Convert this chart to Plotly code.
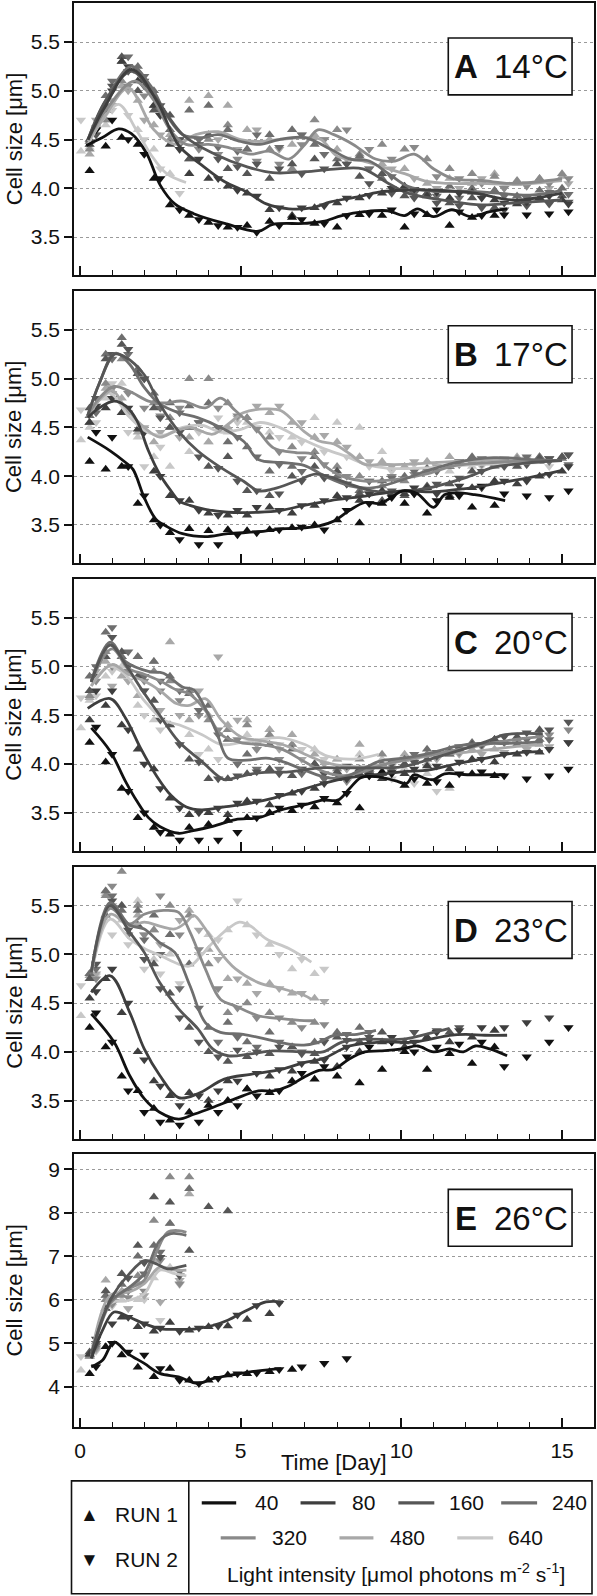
import plotly.graph_objects as go

# ---------------- data ----------------
INTENSITIES = [40, 80, 160, 240, 320, 480, 640]
COLORS = {40: "#111111", 80: "#3e3e3e", 160: "#565656", 240: "#6e6e6e",
          320: "#8a8a8a", 480: "#a8a8a8", 640: "#c8c8c8"}
PANEL_LETTERS = ["A", "B", "C", "D", "E"]
PANEL_TEMPS = ["14°C", "17°C", "20°C", "23°C", "26°C"]
X_TICKS = [0, 5, 10, 15]
Y_TICKS_AD = [3.5, 4.0, 4.5, 5.0, 5.5]
Y_TICKS_E = [4, 5, 6, 7, 8, 9]

# sampling days of run 1 and run 2
T1 = [0.3, 0.8, 1.3, 1.8, 2.3, 2.8, 3.4, 4.0, 4.6, 5.2, 5.9, 6.6, 7.3, 8.0, 8.7, 9.4,
      10.1, 10.8, 11.5, 12.2, 12.9, 13.6, 14.3, 15.0]
T2 = [0.5, 1.0, 1.5, 2.0, 2.5, 3.1, 3.7, 4.3, 4.9, 5.5, 6.2, 6.9, 7.6, 8.3, 9.0, 9.7,
      10.4, 11.1, 11.8, 12.5, 13.2, 13.9, 14.6, 15.2]
T0 = 0.03
INIT_R1 = [4.38, 4.37, 4.37, 4.37, 4.38]
INIT_R2 = [4.70, 4.68, 4.68, 4.68, 4.70]

# ---- Panel A 14°C ----
A40_fit = [(0.2, 4.44), (0.7, 4.52), (1.2, 4.61), (1.6, 4.56), (2.07, 4.36), (2.5, 4.03), (2.95, 3.84), (3.54, 3.74), (4.5, 3.64), (5.55, 3.56), (6.0, 3.63), (6.97, 3.64), (7.56, 3.66), (8.15, 3.72), (8.86, 3.76), (9.57, 3.77), (10.1, 3.72), (10.5, 3.79), (11.0, 3.71), (11.57, 3.78), (12.16, 3.71), (12.75, 3.76), (13.29, 3.79)]
A40_r1 = [4.18, 4.43, 4.52, 4.45, 4.1, 3.83, 3.72, 3.65, 3.6, 3.62, 3.66, 3.7, 3.64, 3.6, 3.73, 3.72, 3.6, 3.73, 3.62, 3.7, 3.72]
A40_r2 = [4.6, 4.7, 4.5, 4.35, 4.1, 3.78, 3.68, 3.62, 3.6, 3.55, 3.62, 3.68, 3.64, 3.72, 3.74, 3.78, 3.74, 3.78, 3.76, 3.72, 3.73, 3.73, 3.74, 3.76]
A80_fit = [(0.25, 4.5), (0.8, 4.85), (1.6, 5.22), (2.4, 4.89), (3.07, 4.44), (3.78, 4.24), (4.49, 4.07), (5.2, 3.96), (5.8, 3.84), (6.5, 3.79), (7.2, 3.8), (7.8, 3.86), (8.6, 3.91), (9.3, 3.96), (10.04, 3.98), (11.1, 3.98), (12.3, 3.95), (13.5, 3.88), (15.0, 3.95)]
A80_r1 = [4.45, 4.8, 5.3, 5.1, 4.85, 4.45, 4.15, 4.1, 4.02, 3.95, 3.78, 3.72, 3.8, 3.85, 3.9, 3.95, 4.02, 3.92, 3.9, 3.96, 3.88, 3.84, 3.9, 3.88]
A80_r2 = [4.6, 5.0, 5.25, 5.05, 4.75, 4.4, 4.3, 4.1, 3.98, 3.92, 3.8, 3.8, 3.82, 3.9, 3.93, 4.0, 3.99, 3.96, 3.95, 3.9, 3.85, 3.86, 3.92, 3.84]
A160_fit = [(0.25, 4.5), (0.8, 4.9), (1.6, 5.2), (2.3, 4.95), (3.2, 4.55), (4.2, 4.35), (5.2, 4.22), (6.0, 4.16), (7.0, 4.17), (8.0, 4.2), (8.8, 4.2), (9.6, 4.05), (10.2, 3.95), (11.5, 3.87), (12.5, 3.83), (13.5, 3.85), (15.0, 3.88)]
A160_r1 = [4.5, 4.85, 5.35, 5.0, 4.8, 4.75, 4.3, 4.55, 4.2, 4.15, 4.1, 4.25, 4.3, 4.25, 4.12, 4.15, 3.92, 3.95, 3.85, 3.9, 3.8, 3.86, 3.9, 3.92]
A160_r2 = [4.55, 5.05, 5.2, 5.1, 4.85, 4.5, 4.45, 4.3, 4.22, 4.25, 4.2, 4.15, 4.2, 4.25, 4.05, 3.95, 3.9, 3.85, 3.82, 3.8, 3.78, 3.82, 3.84, 3.86]
A240_fit = [(0.25, 4.5), (0.8, 4.9), (1.6, 5.25), (2.2, 5.05), (2.7, 4.75), (3.2, 4.55), (3.8, 4.52), (4.3, 4.55), (5.0, 4.48), (5.6, 4.45), (6.2, 4.5), (7.0, 4.52), (7.8, 4.4), (8.4, 4.3), (9.0, 4.28), (9.6, 4.15), (10.2, 4.02), (11.0, 3.97), (12.0, 3.97), (13.0, 3.95), (14.0, 3.93), (15.0, 3.98)]
A240_r1 = [4.48, 4.95, 5.3, 5.25, 5.0, 4.6, 4.8, 4.85, 4.6, 4.4, 4.55, 4.6, 4.45, 4.3, 4.33, 4.1, 4.0, 3.95, 4.02, 4.0, 3.98, 3.92, 3.98, 4.0]
A240_r2 = [4.62, 5.1, 5.35, 5.15, 4.8, 4.45, 4.5, 4.42, 4.38, 4.55, 4.42, 4.55, 4.35, 4.25, 4.2, 4.12, 3.95, 3.92, 3.9, 3.95, 3.92, 3.9, 3.96, 3.94]
A320_fit = [(0.25, 4.5), (0.8, 4.8), (1.7, 5.1), (2.3, 4.9), (2.8, 4.6), (3.3, 4.45), (4.0, 4.45), (4.6, 4.42), (5.3, 4.35), (5.9, 4.38), (6.5, 4.3), (7.0, 4.45), (7.4, 4.6), (7.9, 4.55), (8.5, 4.45), (9.2, 4.3), (9.8, 4.28), (10.4, 4.35), (11.0, 4.2), (11.6, 4.1), (12.5, 4.08), (13.5, 4.05), (15.0, 4.1)]
A320_r1 = [4.4, 4.7, 5.1, 5.2, 4.85, 4.5, 4.3, 4.5, 4.65, 4.4, 4.4, 4.2, 4.7, 4.6, 4.35, 4.45, 4.4, 4.3, 4.2, 4.15, 4.12, 4.08, 4.1, 4.15]
A320_r2 = [4.55, 4.85, 5.05, 4.95, 4.75, 4.5, 4.4, 4.35, 4.3, 4.28, 4.25, 4.45, 4.5, 4.6, 4.4, 4.3, 4.42, 4.12, 4.1, 4.05, 4.0, 4.02, 4.05, 4.1]
A480_fit = [(0.25, 4.48), (0.8, 4.75), (1.5, 5.03), (2.3, 4.6), (3.0, 4.45), (3.6, 4.55), (4.3, 4.58), (5.0, 4.5), (5.6, 4.48), (6.2, 4.5), (7.0, 4.52), (7.5, 4.5), (8.0, 4.33), (8.8, 4.28), (9.4, 4.22), (10.1, 4.15), (10.8, 4.07), (11.5, 4.05), (12.5, 4.05), (13.5, 4.04), (15.0, 4.08)]
A480_r1 = [4.35, 4.7, 5.05, 4.9, 4.65, 4.55, 4.9, 4.95, 4.85, 4.6, 4.5, 4.45, 4.55, 4.4, 4.3, 4.25, 4.2, 4.05, 4.1, 4.05, 4.15, 4.05, 4.1, 4.12]
A480_r2 = [4.7, 4.9, 5.0, 4.7, 4.55, 4.4, 4.45, 4.5, 4.4, 4.6, 4.4, 4.55, 4.5, 4.3, 4.2, 4.2, 4.1, 4.0, 4.0, 4.1, 4.0, 4.05, 4.0, 4.05]
A640_fit = [(0.25, 4.45), (0.7, 4.7), (1.2, 4.86), (1.75, 4.6), (2.2, 4.35), (2.7, 4.15), (3.3, 4.06)]
A640_r1 = [4.42, 4.65, 5.05, 4.6, 4.4, 4.15]
A640_r2 = [4.6, 4.8, 4.75, 4.5, 4.2, 3.95]

# ---- Panel B 17°C ----
B40_fit = [(0.24, 4.4), (0.94, 4.26), (1.42, 4.14), (1.65, 4.07), (2.0, 3.78), (2.36, 3.56), (2.72, 3.48), (3.19, 3.41), (3.9, 3.38), (4.6, 3.41), (5.55, 3.43), (6.26, 3.46), (6.97, 3.47), (7.44, 3.49), (7.9, 3.54), (8.39, 3.65), (8.86, 3.73), (9.33, 3.72), (9.68, 3.78), (10.04, 3.85), (10.5, 3.82), (11.0, 3.68), (11.34, 3.81), (11.7, 3.83), (12.28, 3.81), (13.23, 3.75)]
B40_r1 = [4.15, 4.07, 4.1, 3.72, 3.55, 3.42, 3.46, 3.44, 3.45, 3.44, 3.45, 3.47, 3.5, 3.55, 3.52, 3.72, 3.72, 3.62, 3.78, 3.68, 3.7]
B40_r2 = [4.45, 4.4, 4.1, 3.8, 3.5, 3.35, 3.3, 3.3, 3.4, 3.42, 3.45, 3.48, 3.45, 3.65, 3.72, 3.78, 3.82, 3.75, 3.8, 3.9, 3.82, 3.8, 3.78, 3.85]
B80_fit = [(0.24, 4.6), (0.6, 4.7), (1.06, 4.77), (1.42, 4.72), (1.77, 4.57), (2.13, 4.26), (2.48, 4.02), (2.83, 3.85), (3.07, 3.75), (3.42, 3.7), (3.9, 3.66), (4.6, 3.63), (5.55, 3.63), (6.26, 3.65), (6.97, 3.7), (7.8, 3.75), (8.74, 3.79), (9.33, 3.82), (10.04, 3.85), (11.0, 3.84), (11.93, 3.87), (12.87, 3.92), (14.05, 3.99), (15.0, 4.06)]
B80_r1 = [4.55, 4.7, 4.65, 4.48, 4.05, 3.8, 3.75, 3.62, 3.6, 3.6, 3.68, 3.62, 3.7, 3.8, 3.75, 3.85, 3.82, 3.88, 3.8, 3.88, 3.95, 3.92, 4.0, 4.05]
B80_r2 = [4.72, 4.8, 4.7, 4.45, 4.0, 3.75, 3.65, 3.6, 3.65, 3.68, 3.65, 3.7, 3.75, 3.78, 3.82, 3.8, 3.88, 3.82, 3.9, 3.88, 3.95, 3.95, 4.02, 4.1]
B160_fit = [(0.24, 4.62), (0.6, 4.95), (1.06, 5.25), (1.42, 5.22), (2.0, 5.04), (2.48, 4.74), (3.07, 4.46), (3.66, 4.26), (4.37, 4.09), (5.08, 3.95), (5.55, 3.85), (6.02, 3.87), (6.73, 3.95), (7.32, 4.02), (7.8, 3.99), (8.39, 3.92), (9.09, 3.85), (9.92, 3.84), (10.87, 3.88), (12.05, 3.99), (12.87, 4.09), (14.05, 4.14), (15.0, 4.16)]
B160_r1 = [4.7, 5.2, 5.35, 5.05, 4.7, 4.5, 4.5, 4.1, 4.2, 3.85, 3.8, 4.0, 4.1, 4.05, 3.82, 3.75, 3.8, 3.9, 3.92, 4.05, 4.12, 4.1, 4.18, 4.2]
B160_r2 = [4.8, 5.25, 5.3, 5.0, 4.6, 4.45, 4.2, 4.08, 3.95, 3.85, 3.82, 3.95, 3.98, 3.92, 3.82, 3.85, 3.82, 3.92, 3.98, 4.05, 4.1, 4.12, 4.18, 4.22]
B240_fit = [(0.24, 4.62), (0.6, 4.95), (1.1, 5.26), (1.54, 5.15), (2.0, 4.91), (2.48, 4.74), (3.07, 4.65), (3.66, 4.6), (4.37, 4.5), (5.08, 4.36), (5.55, 4.17), (6.26, 4.14), (6.97, 4.11), (7.68, 3.99), (8.39, 3.9), (9.09, 3.88), (9.92, 3.95), (10.75, 4.05), (11.69, 4.14), (12.87, 4.19), (14.05, 4.17), (15.0, 4.16)]
B240_r1 = [4.62, 5.25, 5.42, 5.1, 4.85, 4.75, 4.72, 4.75, 4.35, 4.3, 4.05, 4.1, 4.2, 4.0, 3.85, 3.95, 4.0, 4.08, 4.1, 4.2, 4.15, 4.15, 4.2, 4.18]
B240_r2 = [4.65, 5.2, 5.25, 5.0, 4.7, 4.65, 4.55, 4.5, 4.4, 4.2, 4.12, 4.05, 4.0, 3.92, 3.95, 3.98, 4.05, 4.05, 4.15, 4.18, 4.15, 4.2, 4.15, 4.12]
B320_fit = [(0.24, 4.62), (0.6, 4.8), (1.06, 4.92), (1.54, 4.87), (2.13, 4.77), (2.6, 4.75), (3.19, 4.77), (3.9, 4.7), (4.37, 4.8), (4.84, 4.67), (5.55, 4.46), (6.02, 4.29), (6.73, 4.24), (7.2, 4.23), (7.68, 4.09), (8.15, 4.0), (8.86, 3.95), (9.92, 3.97), (10.75, 4.02), (11.69, 4.11), (12.87, 4.14), (14.05, 4.16), (15.0, 4.16)]
B320_r1 = [4.55, 4.95, 5.2, 5.05, 4.75, 4.6, 5.0, 5.0, 4.75, 4.6, 4.4, 4.3, 4.25, 4.1, 4.0, 3.9, 3.95, 4.05, 4.1, 4.15, 4.1, 4.18, 4.15, 4.2]
B320_r2 = [4.7, 4.9, 4.85, 4.7, 4.62, 4.7, 4.55, 4.7, 4.62, 4.48, 4.25, 4.18, 4.12, 4.0, 3.95, 4.0, 4.02, 4.05, 4.12, 4.12, 4.15, 4.15, 4.18, 4.22]
B480_fit = [(0.24, 4.6), (0.6, 4.78), (1.0, 4.88), (1.42, 4.7), (2.0, 4.5), (2.48, 4.4), (2.95, 4.46), (3.42, 4.5), (4.13, 4.43), (4.6, 4.53), (5.08, 4.65), (5.79, 4.69), (6.26, 4.67), (6.97, 4.46), (7.44, 4.36), (7.9, 4.33), (8.39, 4.23), (8.86, 4.12), (9.33, 4.12), (10.04, 4.12), (11.1, 4.14), (12.28, 4.16), (13.46, 4.16), (14.3, 4.16)]
B480_r1 = [4.55, 4.9, 4.8, 4.45, 4.35, 4.5, 4.4, 4.35, 4.5, 4.6, 4.65, 4.55, 4.4, 4.35, 4.2, 4.15, 4.1, 4.15, 4.2, 4.18, 4.15, 4.2, 4.2]
B480_r2 = [4.68, 4.85, 4.65, 4.5, 4.45, 4.4, 4.55, 4.5, 4.6, 4.72, 4.72, 4.55, 4.42, 4.3, 4.15, 4.1, 4.15, 4.1, 4.12, 4.15, 4.18, 4.12, 4.18]
B640_fit = [(0.24, 4.6), (0.6, 4.78), (0.95, 4.85), (1.5, 4.62), (2.1, 4.45), (2.6, 4.42), (3.2, 4.5), (3.8, 4.52), (4.4, 4.45), (5.0, 4.48), (5.6, 4.55), (6.2, 4.5), (6.9, 4.38), (7.6, 4.28), (8.3, 4.2), (8.9, 4.12), (9.6, 4.08), (10.5, 4.08), (11.5, 4.1), (12.5, 4.12), (13.5, 4.13), (14.3, 4.14)]
B640_r1 = [4.5, 4.8, 4.95, 4.4, 4.2, 4.1, 4.25, 4.35, 4.45, 4.55, 4.45, 4.4, 4.6, 4.55, 4.5, 4.25, 4.1, 4.15, 4.05, 4.1, 4.15, 4.12, 4.15]
B640_r2 = [4.55, 4.95, 4.45, 4.1, 4.3, 4.4, 4.45, 4.6, 4.55, 4.5, 4.4, 4.35, 4.25, 4.2, 4.1, 4.05, 4.12, 4.1, 4.15, 4.1, 4.15, 4.18, 4.1]

# ---- Panel C 20°C ----
C40_fit = [(0.35, 4.37), (0.94, 4.13), (1.42, 3.82), (1.77, 3.62), (2.13, 3.45), (2.48, 3.36), (3.07, 3.29), (3.42, 3.31), (4.13, 3.36), (4.84, 3.43), (5.55, 3.45), (6.26, 3.53), (6.97, 3.58), (7.56, 3.63), (8.03, 3.63), (8.39, 3.75), (8.74, 3.86), (9.21, 3.87), (9.8, 3.83), (10.16, 3.8), (10.39, 3.89), (10.75, 3.85), (11.0, 3.84), (11.34, 3.9), (12.05, 3.89), (12.87, 3.89), (13.23, 3.89)]
C40_r1 = [4.22, 4.02, 3.75, 3.45, 3.35, 3.28, 3.35, 3.38, 3.42, 3.45, 3.5, 3.52, 3.56, 3.6, 3.55, 3.92, 3.78, 3.8, 3.78, 3.9, 3.88]
C40_r2 = [4.38, 4.1, 3.72, 3.5, 3.3, 3.22, 3.22, 3.22, 3.3, 3.45, 3.55, 3.58, 3.65, 3.7, 3.88, 3.9, 3.85, 3.82, 3.9, 3.92, 3.88, 3.85, 3.88, 3.95]
C80_fit = [(0.24, 4.57), (0.94, 4.67), (1.42, 4.47), (1.89, 4.16), (2.36, 3.89), (2.83, 3.68), (3.31, 3.56), (3.78, 3.53), (4.49, 3.56), (5.31, 3.6), (6.02, 3.65), (6.73, 3.72), (7.56, 3.8), (8.39, 3.86), (9.21, 3.89), (10.04, 3.92), (10.87, 3.94), (11.69, 4.0), (12.64, 4.06), (13.46, 4.11), (14.4, 4.13)]
C80_r1 = [4.45, 4.6, 4.4, 4.15, 3.95, 3.65, 3.48, 3.5, 3.48, 3.62, 3.58, 3.7, 3.75, 3.85, 3.9, 3.85, 3.9, 3.98, 3.95, 4.05, 4.02, 4.1, 4.12]
C80_r2 = [4.75, 4.75, 4.35, 4.0, 3.75, 3.55, 3.5, 3.55, 3.6, 3.62, 3.68, 3.72, 3.8, 3.85, 3.88, 3.92, 3.95, 3.98, 4.02, 4.05, 4.1, 4.12, 4.15, 4.22]
C160_fit = [(0.35, 4.84), (0.94, 5.22), (1.42, 5.02), (1.89, 4.78), (2.48, 4.5), (3.07, 4.23), (3.78, 4.03), (4.49, 3.84), (4.84, 3.86), (5.55, 3.91), (6.5, 3.92), (7.44, 3.96), (8.15, 3.96), (9.0, 3.96), (10.0, 3.97), (11.0, 4.06), (12.0, 4.16), (12.64, 4.23), (13.23, 4.3), (14.4, 4.31)]
C160_r1 = [4.75, 5.1, 5.15, 4.9, 4.65, 4.4, 4.05, 3.85, 3.85, 3.9, 3.95, 3.88, 4.0, 3.92, 3.95, 3.9, 4.0, 4.05, 4.12, 4.2, 4.25, 4.28, 4.35]
C160_r2 = [4.9, 5.3, 5.0, 4.75, 4.45, 4.2, 4.02, 3.85, 3.88, 3.92, 3.9, 3.95, 3.9, 3.98, 3.92, 4.0, 4.02, 4.08, 4.15, 4.2, 4.28, 4.32, 4.35, 4.43]
C240_fit = [(0.35, 4.85), (0.94, 5.25), (1.42, 5.05), (2.13, 4.95), (2.6, 4.93), (3.19, 4.79), (3.54, 4.76), (3.9, 4.57), (4.25, 4.33), (4.6, 4.06), (5.2, 4.04), (5.79, 4.06), (6.26, 4.03), (6.97, 3.94), (7.68, 3.86), (8.15, 3.86), (8.74, 3.94), (9.33, 4.03), (10.04, 4.06), (10.87, 4.11), (11.69, 4.18), (12.4, 4.21), (13.23, 4.21), (14.4, 4.23)]
C240_r1 = [4.9, 5.35, 5.1, 5.1, 5.05, 4.9, 4.72, 4.6, 4.25, 4.1, 4.2, 4.15, 4.0, 3.9, 3.95, 4.0, 4.05, 4.15, 4.1, 4.22, 4.25, 4.2, 4.25]
C240_r2 = [5.0, 5.4, 5.15, 4.9, 4.85, 4.75, 4.55, 4.3, 4.0, 3.95, 3.95, 3.9, 3.85, 3.85, 3.9, 4.02, 4.1, 4.12, 4.18, 4.2, 4.22, 4.25, 4.25, 4.22]
C320_fit = [(0.35, 4.85), (1.0, 5.18), (1.5, 4.98), (2.0, 4.92), (2.5, 4.85), (3.0, 4.76), (3.4, 4.72), (3.9, 4.55), (4.4, 4.3), (5.0, 4.22), (5.6, 4.2), (6.3, 4.15), (7.0, 4.02), (7.6, 3.92), (8.2, 3.88), (8.8, 3.92), (9.5, 4.0), (10.2, 4.05), (11.0, 4.1), (11.8, 4.15), (12.6, 4.2), (13.5, 4.25), (14.4, 4.28)]
C320_r1 = [4.7, 5.15, 5.1, 5.1, 4.95, 4.85, 4.75, 4.45, 4.35, 4.4, 4.3, 4.2, 4.0, 3.95, 4.05, 4.1, 4.0, 4.1, 4.15, 4.2, 4.25, 4.25, 4.3]
C320_r2 = [4.85, 5.0, 4.95, 4.85, 4.75, 4.65, 4.5, 4.35, 4.25, 4.15, 4.05, 3.95, 3.85, 3.82, 3.9, 3.95, 4.05, 4.08, 4.12, 4.18, 4.22, 4.25, 4.3, 4.35]
C480_fit = [(0.35, 4.8), (1.0, 5.02), (1.5, 4.92), (2.0, 4.85), (2.5, 4.75), (3.0, 4.62), (3.4, 4.6), (3.9, 4.67), (4.4, 4.45), (5.0, 4.28), (5.6, 4.24), (6.3, 4.2), (7.0, 4.1), (7.6, 4.02), (8.2, 3.98), (8.8, 3.97), (9.5, 4.0), (10.3, 4.05), (11.2, 4.1), (12.0, 4.12), (12.8, 4.15), (13.6, 4.18), (14.4, 4.2)]
C480_r1 = [4.68, 5.05, 4.9, 4.7, 5.05, 5.25, 4.45, 4.5, 4.4, 4.45, 4.35, 4.3, 4.1, 4.05, 4.2, 4.0, 4.1, 4.0, 4.1, 4.15, 4.15, 4.2, 4.2]
C480_r2 = [4.95, 4.8, 4.85, 4.75, 4.55, 4.5, 4.75, 5.1, 4.45, 4.2, 4.15, 4.05, 4.0, 3.95, 3.92, 3.98, 4.02, 4.05, 4.1, 4.1, 4.12, 4.15, 4.18]
C640_fit = [(0.35, 4.8), (0.9, 5.0), (1.4, 4.92), (2.0, 4.65), (2.6, 4.45), (3.1, 4.4), (3.8, 4.3), (4.4, 4.2), (5.0, 4.22), (5.6, 4.25), (6.2, 4.27), (7.0, 4.2), (7.7, 4.08), (8.5, 4.05), (9.3, 4.1)]
C640_r1 = [4.65, 4.9, 5.0, 4.6, 4.45, 4.4, 4.3, 4.15, 4.25, 4.3, 4.35, 4.2, 4.15, 4.05, 4.1, 4.05, 3.95, 3.9, 3.75]
C640_r2 = [4.7, 4.95, 4.85, 4.5, 4.35, 4.2, 4.1, 4.05, 4.0, 4.15, 4.2, 4.15, 4.05, 3.95, 3.9, 3.85, 3.8, 3.72]

# ---- Panel D 23°C ----
D40_fit = [(0.35, 4.39), (1.06, 4.1), (1.54, 3.76), (2.0, 3.52), (2.48, 3.38), (3.07, 3.31), (3.54, 3.36), (4.13, 3.43), (4.84, 3.52), (5.55, 3.6), (6.02, 3.6), (6.5, 3.65), (6.97, 3.74), (7.44, 3.81), (7.9, 3.82), (8.39, 3.93), (8.86, 4.0), (9.33, 4.01), (10.04, 4.03), (10.5, 4.06), (11.0, 4.0), (11.5, 4.03), (11.93, 4.0), (12.3, 4.06), (12.75, 4.03), (13.29, 3.96)]
D40_r1 = [4.25, 4.05, 3.75, 3.6, 3.42, 3.3, 3.38, 3.45, 3.5, 3.62, 3.58, 3.7, 3.72, 3.75, 3.68, 3.82, 4.0, 3.82, 3.98, 3.88, 4.05]
D40_r2 = [4.4, 4.1, 3.6, 3.38, 3.28, 3.25, 3.28, 3.38, 3.45, 3.55, 3.6, 3.78, 3.85, 3.95, 4.05, 4.1, 4.0, 4.05, 4.08, 4.1, 3.85, 3.95, 4.1, 4.25]
D80_fit = [(0.35, 4.61), (0.94, 4.78), (1.54, 4.41), (2.0, 4.03), (2.48, 3.76), (3.07, 3.53), (3.66, 3.57), (4.49, 3.72), (5.31, 3.77), (6.26, 3.82), (6.97, 3.89), (7.56, 3.93), (8.39, 4.06), (9.33, 4.1), (10.4, 4.1), (11.5, 4.17), (12.0, 4.18), (12.6, 4.17), (13.29, 4.17)]
D80_r1 = [4.55, 4.75, 4.4, 4.0, 3.7, 3.55, 3.58, 3.5, 3.7, 3.62, 3.75, 3.8, 3.9, 3.85, 4.0, 4.1, 4.05, 4.15, 4.1, 4.15, 4.22]
D80_r2 = [4.62, 4.85, 4.5, 3.92, 3.65, 3.45, 3.55, 3.6, 3.7, 3.78, 3.82, 3.88, 3.92, 4.05, 4.12, 4.15, 4.1, 4.2, 4.22, 4.25, 4.25, 4.3, 4.35]
D160_fit = [(0.35, 4.82), (0.94, 5.5), (1.54, 5.23), (2.0, 5.02), (2.48, 4.71), (3.07, 4.44), (3.66, 4.24), (4.13, 4.03), (4.6, 3.96), (5.31, 3.98), (6.0, 4.01), (6.97, 4.0), (7.56, 4.0), (8.15, 4.1), (8.86, 4.13), (10.04, 4.13), (11.0, 4.2), (11.5, 4.24)]
D160_r1 = [4.75, 5.4, 5.5, 5.3, 4.9, 4.6, 4.25, 4.0, 3.9, 3.95, 3.98, 4.05, 3.98, 4.15, 4.1, 4.2, 4.1, 4.15, 4.2]
D160_r2 = [4.9, 5.55, 5.25, 4.95, 4.65, 4.35, 4.1, 3.95, 4.02, 4.0, 4.05, 3.98, 4.1, 4.12, 4.15, 4.1, 4.2, 4.22, 4.25]
D240_fit = [(0.35, 4.8), (0.94, 5.53), (1.54, 5.3), (2.0, 5.26), (2.48, 5.12), (2.95, 5.02), (3.42, 4.68), (3.9, 4.3), (4.37, 4.2), (5.08, 4.18), (5.79, 4.13), (6.5, 4.08), (6.97, 4.07), (7.44, 4.1), (7.9, 4.17), (8.62, 4.18), (9.21, 4.22)]
D240_r1 = [4.8, 5.65, 5.45, 5.45, 5.4, 5.2, 4.9, 4.25, 4.3, 4.1, 4.2, 4.05, 4.1, 4.2, 4.25]
D240_r2 = [4.85, 5.6, 5.2, 5.15, 5.0, 4.65, 4.45, 4.1, 4.15, 4.05, 4.1, 4.0, 4.12, 4.18, 4.2]
D320_fit = [(0.35, 4.8), (0.94, 5.47), (1.54, 5.31), (2.0, 5.41), (2.6, 5.45), (3.07, 5.43), (3.42, 5.23), (3.9, 4.85), (4.37, 4.54), (4.84, 4.47), (5.55, 4.37), (6.26, 4.34), (6.97, 4.32), (7.32, 4.32)]
D320_r1 = [4.8, 5.6, 5.85, 5.5, 5.25, 5.5, 5.4, 4.9, 4.4, 4.5, 4.4, 4.3, 4.3]
D320_r2 = [4.75, 5.7, 5.3, 5.2, 5.6, 5.2, 5.05, 4.65, 4.45, 4.35, 4.35, 4.25, 4.28]
D480_fit = [(0.35, 4.8), (0.94, 5.41), (1.54, 5.29), (2.0, 5.33), (2.48, 5.29), (2.95, 5.26), (3.31, 5.33), (3.54, 5.4), (3.9, 5.26), (4.37, 5.02), (4.84, 4.85), (5.55, 4.71), (6.26, 4.65), (6.97, 4.58), (7.2, 4.54)]
D480_r1 = [4.78, 5.65, 5.5, 5.4, 5.25, 5.2, 5.45, 5.05, 4.75, 4.7, 4.7, 4.6, 4.55]
D480_r2 = [4.8, 5.5, 5.3, 5.2, 5.1, 5.35, 5.25, 4.95, 4.75, 4.6, 4.65, 4.6, 4.52]
D640_fit = [(0.35, 4.8), (0.94, 5.36), (1.54, 5.16), (2.0, 5.06), (2.48, 4.99), (3.07, 4.9), (3.42, 4.88), (3.78, 4.99), (4.13, 5.12), (4.6, 5.26), (4.96, 5.33), (5.31, 5.29), (5.79, 5.16), (6.5, 5.06), (7.2, 4.92)]
D640_r1 = [4.8, 5.62, 5.35, 5.55, 4.95, 5.0, 4.9, 5.2, 5.25, 5.3, 5.1, 4.85, 4.8]
D640_r2 = [4.78, 5.2, 5.1, 4.85, 4.8, 4.7, 5.0, 5.15, 5.55, 5.2, 5.0, 4.95, 4.85]

# ---- Panel E 26°C ----
E40_fit = [(0.35, 4.46), (0.7, 4.61), (1.06, 5.03), (1.5, 4.76), (2.0, 4.54), (2.48, 4.31), (3.07, 4.23), (3.66, 4.08), (4.13, 4.19), (4.84, 4.29), (5.55, 4.37), (6.26, 4.42)]
E40_r1 = [4.3, 4.92, 4.73, 4.45, 4.23, 4.42, 4.15, 4.15, 4.27, 4.3, 4.35, 4.4]
E40_r2 = [4.46, 5.0, 4.8, 4.73, 4.42, 4.15, 4.08, 4.2, 4.3, 4.32, 4.4, 4.46, 4.54, 4.65]
E80_fit = [(0.35, 4.65), (0.7, 5.3), (1.06, 5.72), (1.54, 5.6), (2.0, 5.45), (2.48, 5.34), (3.07, 5.32), (3.66, 5.34), (4.13, 5.41), (4.6, 5.53), (5.2, 5.76), (5.79, 5.95), (6.32, 5.95)]
E80_r1 = [4.75, 5.8, 5.6, 5.38, 5.28, 5.48, 5.3, 5.38, 5.4, 5.55, 5.68]
E80_r2 = [5.1, 5.45, 5.6, 5.45, 5.35, 5.28, 5.35, 5.4, 5.65, 5.87, 5.92]
E160_fit = [(0.35, 4.76), (0.94, 5.99), (1.54, 6.6), (2.0, 6.9), (2.36, 6.83), (2.72, 6.71), (3.07, 6.75), (3.31, 6.79)]
E160_r1 = [4.8, 6.2, 6.6, 7.25, 8.36, 8.24, 7.13, 8.14, 8.04]
E160_r2 = [5.0, 6.05, 6.5, 6.85, 6.98, 6.55]
E240_fit = [(0.35, 4.7), (0.94, 5.95), (1.54, 6.29), (2.0, 6.6), (2.48, 7.36), (2.83, 7.52), (3.31, 7.48)]
E240_r1 = [4.75, 6.1, 6.35, 7.0, 7.25, 7.75, 8.55]
E240_r2 = [4.95, 6.0, 6.2, 6.6, 7.1, 6.65]
E320_fit = [(0.35, 4.7), (0.94, 5.91), (1.42, 6.22), (2.0, 6.45), (2.36, 7.06), (2.72, 7.55), (3.07, 7.59), (3.31, 7.55)]
E320_r1 = [4.7, 6.0, 6.1, 6.55, 7.82, 8.82, 8.82]
E320_r2 = [4.9, 5.9, 6.05, 6.2, 6.9, 6.37]
E480_fit = [(0.35, 4.7), (0.94, 6.1), (1.54, 6.18), (2.0, 6.37), (2.48, 6.75), (2.95, 6.68), (3.31, 6.68)]
E480_r1 = [4.72, 6.45, 6.2, 6.4, 6.9, 7.75, 8.43]
E480_r2 = [4.85, 5.95, 5.8, 6.1, 5.95, 6.45]
E640_fit = [(0.35, 4.72), (0.94, 5.91), (1.54, 5.99), (2.0, 6.14), (2.48, 6.68), (2.95, 6.6), (3.31, 6.55)]
E640_r1 = [4.7, 6.1, 5.99, 6.0, 6.5, 6.75]
E640_r2 = [4.82, 5.85, 5.8, 6.0, 5.53, 6.35]

G = globals()

# ---------------- layout geometry ----------------
W, H = 597, 1596
ML, MR, MT, MB = 74, 2, 1, 169
PW = W - ML - MR
PH = H - MT - MB
PANEL_TOP = [1, 289.25, 577.5, 865.75, 1154]
PANEL_H = 272.5
Y_RANGES = [[3.11, 5.90]] * 4 + [[3.09, 9.34]]
X_RANGE = [-0.186, 15.994]
FONT = "Liberation Sans Narrow, Arial Narrow, Liberation Sans, Arial, sans-serif"


def fx(px):
    return (px - ML) / PW


def fy(py):
    return 1 - (py - MT) / PH


fig = go.Figure()
MS = 9

for i, L in enumerate(PANEL_LETTERS):
    xa = "x" if i == 0 else f"x{i+1}"
    ya = "y" if i == 0 else f"y{i+1}"
    fig.add_trace(go.Scatter(x=[T0], y=[INIT_R1[i]], mode="markers", xaxis=xa, yaxis=ya,
                             marker=dict(symbol="triangle-up", size=MS, color=COLORS[640]),
                             showlegend=False, hoverinfo="skip"))
    fig.add_trace(go.Scatter(x=[T0], y=[INIT_R2[i]], mode="markers", xaxis=xa, yaxis=ya,
                             marker=dict(symbol="triangle-down", size=MS, color=COLORS[640]),
                             showlegend=False, hoverinfo="skip"))
    for I in reversed(INTENSITIES):
        r1 = G[f"{L}{I}_r1"]
        r2 = G[f"{L}{I}_r2"]
        fig.add_trace(go.Scatter(x=T1[:len(r1)], y=r1, mode="markers", xaxis=xa, yaxis=ya,
                                 marker=dict(symbol="triangle-up", size=MS, color=COLORS[I]),
                                 showlegend=False, hoverinfo="skip"))
        fig.add_trace(go.Scatter(x=T2[:len(r2)], y=r2, mode="markers", xaxis=xa, yaxis=ya,
                                 marker=dict(symbol="triangle-down", size=MS, color=COLORS[I]),
                                 showlegend=False, hoverinfo="skip"))
    for I in reversed(INTENSITIES):
        fit = G[f"{L}{I}_fit"]
        fig.add_trace(go.Scatter(x=[p[0] for p in fit], y=[p[1] for p in fit], mode="lines",
                                 xaxis=xa, yaxis=ya,
                                 line=dict(color=COLORS[I], width=2.8, shape="spline", smoothing=1.0),
                                 showlegend=False, hoverinfo="skip"))

layout = dict(width=W, height=H, margin=dict(l=ML, r=MR, t=MT, b=MB),
              paper_bgcolor="white", plot_bgcolor="white",
              font=dict(family=FONT, size=20, color="#111"), showlegend=False)

for i in range(5):
    xk = "xaxis" if i == 0 else f"xaxis{i+1}"
    yk = "yaxis" if i == 0 else f"yaxis{i+1}"
    ya = "y" if i == 0 else f"y{i+1}"
    xa = "x" if i == 0 else f"x{i+1}"
    top = PANEL_TOP[i]
    layout[xk] = dict(anchor=ya, domain=[0, 1], range=X_RANGE, showgrid=False, zeroline=False,
                      showline=True, linecolor="#111", linewidth=1.6, mirror=True,
                      ticks="inside", tickvals=X_TICKS, ticklen=9, tickwidth=1.5, tickcolor="#111",
                      minor=dict(dtick=1, tick0=0, ticks="inside", ticklen=5, tickwidth=1.2,
                                 tickcolor="#111", showgrid=False),
                      showticklabels=(i == 4), tickfont=dict(size=21, family=FONT),
                      ticklabelstandoff=4)
    ticks = Y_TICKS_E if i == 4 else Y_TICKS_AD
    layout[yk] = dict(anchor=xa, domain=[fy(top + PANEL_H), fy(top)], range=Y_RANGES[i],
                      tickvals=ticks, ticktext=[(f"{t:.0f}" if i == 4 else f"{t:.1f}") for t in ticks],
                      showgrid=True, gridcolor="#9a9a9a", gridwidth=1, griddash="dot",
                      zeroline=False, showline=True, linecolor="#111", linewidth=1.6, mirror=True,
                      ticks="outside", ticklen=8, tickwidth=1.5, tickcolor="#111",
                      tickfont=dict(size=21, family=FONT))

shapes = []
annotations = []
for i in range(5):
    top = PANEL_TOP[i]
    shapes.append(dict(type="rect", xref="paper", yref="paper", x0=fx(449), x1=fx(573),
                       y0=fy(top + 92), y1=fy(top + 35), line=dict(color="#111", width=1.6),
                       fillcolor="white", layer="above"))
    annotations.append(dict(xref="paper", yref="paper", x=fx(467), y=fy(top + 64),
                            text=f"<b>{PANEL_LETTERS[i]}</b>", showarrow=False,
                            font=dict(size=33, family=FONT, color="#111"),
                            xanchor="center", yanchor="middle"))
    annotations.append(dict(xref="paper", yref="paper", x=fx(532), y=fy(top + 64),
                            text=PANEL_TEMPS[i], showarrow=False,
                            font=dict(size=33, family=FONT, color="#111"),
                            xanchor="center", yanchor="middle"))
    annotations.append(dict(xref="paper", yref="paper", x=fx(14), y=fy(top + PANEL_H / 2),
                            text="Cell size [μm]", textangle=-90, showarrow=False,
                            font=dict(size=22, family=FONT, color="#111"),
                            xanchor="center", yanchor="middle"))

annotations.append(dict(xref="paper", yref="paper", x=fx(334), y=fy(1463), text="Time [Day]",
                        showarrow=False, font=dict(size=22, family=FONT, color="#111"),
                        xanchor="center", yanchor="middle"))

# legend box
shapes.append(dict(type="rect", xref="paper", yref="paper", x0=fx(71.5), x1=fx(593),
                   y0=fy(1594), y1=fy(1481), line=dict(color="#111", width=1.6),
                   fillcolor="rgba(0,0,0,0)"))
shapes.append(dict(type="line", xref="paper", yref="paper", x0=fx(189), x1=fx(189),
                   y0=fy(1594), y1=fy(1481), line=dict(color="#111", width=1.6)))
annotations.append(dict(xref="paper", yref="paper", x=fx(90), y=fy(1515), text="▲",
                        showarrow=False, font=dict(size=19, color="#111"), xanchor="center", yanchor="middle"))
annotations.append(dict(xref="paper", yref="paper", x=fx(90), y=fy(1560), text="▼",
                        showarrow=False, font=dict(size=19, color="#111"), xanchor="center", yanchor="middle"))
annotations.append(dict(xref="paper", yref="paper", x=fx(180), y=fy(1515), text="RUN 1",
                        showarrow=False, font=dict(size=21, family=FONT, color="#111"),
                        xanchor="right", yanchor="middle"))
annotations.append(dict(xref="paper", yref="paper", x=fx(180), y=fy(1560), text="RUN 2",
                        showarrow=False, font=dict(size=21, family=FONT, color="#111"),
                        xanchor="right", yanchor="middle"))

LEG_ITEMS = [(40, 202, 236.5, 267, 1503), (80, 301, 336, 364, 1503), (160, 399, 435, 467, 1503),
             (240, 502, 538, 570, 1503), (320, 221, 256, 290, 1538), (480, 340, 374, 408, 1538),
             (640, 458, 494, 526, 1538)]
for I, x0, x1, xt, yy in LEG_ITEMS:
    shapes.append(dict(type="line", xref="paper", yref="paper", x0=fx(x0), x1=fx(x1),
                       y0=fy(yy), y1=fy(yy), line=dict(color=COLORS[I], width=3.2)))
    annotations.append(dict(xref="paper", yref="paper", x=fx(xt), y=fy(yy), text=str(I),
                            showarrow=False, font=dict(size=21, family=FONT, color="#111"),
                            xanchor="center", yanchor="middle"))
annotations.append(dict(xref="paper", yref="paper", x=fx(397), y=fy(1573),
                        text="Light intensity [μmol photons m<sup>-2</sup> s<sup>-1</sup>]",
                        showarrow=False, font=dict(size=21, family=FONT, color="#111"),
                        xanchor="center", yanchor="middle"))

layout["shapes"] = shapes
layout["annotations"] = annotations
fig.update_layout(**layout)
fig.write_html("out.html", config={"displayModeBar": False},
               post_script="document.body.style.margin='0px';")
